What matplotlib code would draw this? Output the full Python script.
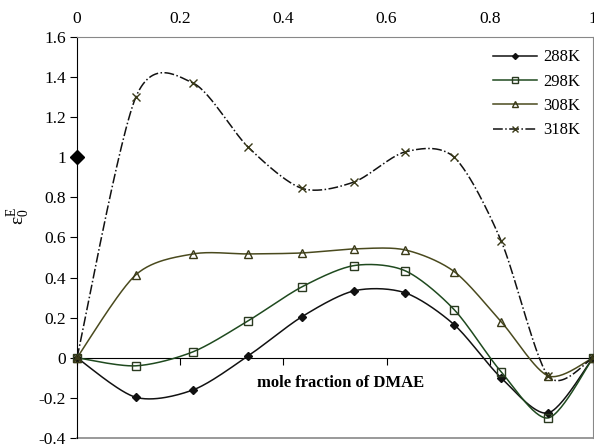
import numpy as np
import matplotlib.pyplot as plt
from matplotlib.lines import Line2D

plt.rcParams['font.family'] = 'Liberation Serif'
plt.rcParams['mathtext.fontset'] = 'stix'

# mole fraction of DMAE
x = [0, 0.114, 0.225, 0.332, 0.436, 0.537, 0.636, 0.731, 0.822, 0.913, 1.0]
e288 = [0, -0.197, -0.16, 0.01, 0.205, 0.334, 0.324, 0.165, -0.10, -0.275, 0]
e298 = [0, -0.04, 0.03, 0.185, 0.354, 0.46, 0.434, 0.24, -0.07, -0.30, 0]
e308 = [0, 0.414, 0.518, 0.518, 0.523, 0.543, 0.538, 0.43, 0.18, -0.09, 0]
e318 = [0, 1.30, 1.37, 1.05, 0.845, 0.877, 1.027, 1.00, 0.583, -0.09, 0]
lone_x, lone_y = [0], [1.0]

labels = ['288K', '298K', '308K', '318K']
xticks = [0, 0.2, 0.4, 0.6, 0.8, 1]
yticks = [-0.4, -0.2, 0, 0.2, 0.4, 0.6, 0.8, 1, 1.2, 1.4, 1.6]


def smooth(xs, ys, n=30, k=7.0):
    # excel-like smoothing: catmull-rom through bezier segments
    p = np.column_stack([xs, ys]).astype(float)
    p = np.vstack([p[0], p, p[-1]])
    out = []
    t = np.linspace(0, 1, n)[:, None]
    for i in range(1, len(p) - 2):
        p0, p1, p2, p3 = p[i - 1], p[i], p[i + 1], p[i + 2]
        b1 = p1 + (p2 - p0) / k
        b2 = p2 - (p3 - p1) / k
        seg = ((1 - t) ** 3) * p1 + 3 * ((1 - t) ** 2) * t * b1 + 3 * (1 - t) * t ** 2 * b2 + t ** 3 * p2
        out.append(seg if i == 1 else seg[1:])
    out = np.vstack(out)
    return out[:, 0], out[:, 1]


fig = plt.figure(figsize=(5.94, 4.46), dpi=100)
ax = fig.add_axes([77 / 594, 8 / 446, 516 / 594, 401 / 446])

styles = [
    dict(color='#111111', ls='-', marker='D', ms=4, mfc='#111111', mec='#111111'),
    dict(color='#1f4a1f', ls='-', marker='s', ms=6, mfc='none', mec='#2a3a20'),
    dict(color='#4a4a1e', ls='-', marker='^', ms=6, mfc='none', mec='#3a3a18'),
    dict(color='#111111', ls='-.', marker='x', ms=6, mfc='none', mec='#3a3a18'),
]
series = [e288, e298, e308, e318]

handles = []
for ys, st, lab in zip(series, styles, labels):
    sx, sy = smooth(x, ys)
    ax.plot(sx, sy, color=st['color'], ls=st['ls'], lw=1.1, zorder=3)
    ax.plot(x, ys, ls='none', marker=st['marker'], ms=st['ms'], mfc=st['mfc'],
            mec=st['mec'], mew=1.0, zorder=4, clip_on=False)
    handles.append(Line2D([], [], color=st['color'], ls=st['ls'], lw=1.1,
                          marker=st['marker'], ms=st['ms'] - 1, mfc=st['mfc'], mec=st['mec']))

ax.plot(lone_x, lone_y, ls='none', marker='D', ms=7, color='black', clip_on=False, zorder=5)

ax.set_xlim(0, 1)
ax.set_ylim(-0.4, 1.6)

ax.spines['left'].set_color('black')
ax.spines['bottom'].set_position(('data', 0))
ax.spines['bottom'].set_color('black')
for s in ['top', 'right']:
    ax.spines[s].set_color('#888888')
ax.axhline(-0.4, color='#888888', lw=1.2, clip_on=False)

ax.set_xticks(xticks)
ax.set_xticklabels(['%g' % v for v in xticks])
ax.tick_params(axis='x', direction='out', length=5, color='black', top=False,
               labeltop=True, labelbottom=False, labelsize=12.5, pad=2)
ax.set_yticks(yticks)
ax.set_yticklabels(['%g' % v for v in yticks])
ax.tick_params(axis='y', direction='out', length=5, labelsize=12.5, pad=3)

ax.text(0.51, -0.125, 'mole fraction of DMAE', ha='center', va='center',
        fontsize=12, fontweight='bold')
fig.text(18 / 594, 0.515, r'ε$_\mathregular{0}^\mathregular{E}$', rotation=90, ha='center',
         va='center', fontsize=14)

ax.legend(handles, labels, loc='upper right', frameon=False, fontsize=12,
          handlelength=2.6, labelspacing=0.5, borderaxespad=0.35, handletextpad=0.4)

fig.savefig('out.png', dpi=100)
